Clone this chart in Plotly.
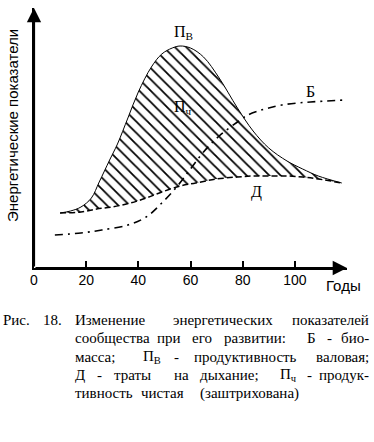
import plotly.graph_objects as go

# ---- data (arbitrary energy units vs years) ----
years_pv = [10, 14, 18, 22, 25, 29, 32, 36, 40, 45, 49, 53, 56, 60, 65, 71, 78, 84, 90, 97, 103, 109, 118]
pv_gross = [55, 57, 61, 70, 86, 108, 124, 150, 176, 201, 214, 220, 222, 220, 211, 190, 160, 137, 120, 107, 99, 92, 85]

years_d = [10, 18, 24, 30, 37, 43, 49, 56, 62, 70, 78, 84, 90, 97, 103, 109, 118]
respiration = [55, 56, 59, 61, 65, 70, 76, 82, 85, 89, 91, 92, 92, 92, 91, 89, 85]

years_b = [8, 18, 26, 36, 43, 49, 55, 60, 65, 71, 78, 82, 86, 90, 95, 101, 106, 112, 119]
biomass = [33, 35, 38, 43, 51, 65, 82, 99, 116, 132, 146, 153, 157, 160, 163, 165, 166, 167, 168]

x_ticks = [0, 20, 40, 60, 80, 100]

# ---- geometry helpers (pixel -> paper) ----
W, H = 374, 442
L, R, T, B = 34, 27, 8, 174
PW, PH = W - L - R, H - T - B

def px(x):
    return (x - L) / PW

def py(y):
    return (H - B - y) / PH

fig = go.Figure()

fig.add_trace(go.Scatter(x=years_d, y=respiration, mode="lines", line_shape="spline",
                         line=dict(color="black", width=1.5, dash="6px,3px"),
                         showlegend=False, hoverinfo="skip"))
fig.add_trace(go.Scatter(x=years_pv, y=pv_gross, mode="lines", line_shape="spline",
                         line=dict(color="black", width=1),
                         fill="tonexty", fillcolor="white",
                         fillpattern=dict(shape="\\", size=8, solidity=0.22,
                                          fgcolor="black", bgcolor="white", fillmode="replace"),
                         showlegend=False, hoverinfo="skip"))
fig.add_trace(go.Scatter(x=years_b, y=biomass, mode="lines", line_shape="spline",
                         line=dict(color="black", width=1.6, dash="8px,5px,2px,5px"),
                         showlegend=False, hoverinfo="skip"))

ann = []
# axis arrows
ann.append(dict(x=120, y=0, ax=0, ay=0, xref="x", yref="y", axref="x", ayref="y",
                text="", showarrow=True, arrowhead=2, arrowsize=1.3, arrowwidth=2.2, arrowcolor="black"))
ann.append(dict(x=0, y=260, ax=0, ay=0, xref="x", yref="y", axref="x", ayref="y",
                text="", showarrow=True, arrowhead=2, arrowsize=1.3, arrowwidth=2.2, arrowcolor="black"))

sans = "Liberation Sans, Arial, sans-serif"
serif = "Liberation Serif, Times New Roman, serif"

def label(x, y, text, size=14, font=serif, xanchor="center", angle=0):
    ann.append(dict(x=px(x), y=py(y), xref="paper", yref="paper", text=text, showarrow=False,
                    xanchor=xanchor, yanchor="middle", textangle=angle, borderpad=0,
                    font=dict(family=font, size=size, color="black")))

# y axis title & x axis title
label(12, 126, "Энергетические показатели", size=15, font=sans, angle=-90)
label(343, 285, "Годы", size=15, font=sans)

# curve labels
label(173, 32, "П<sub>В</sub>", size=16, xanchor="left")
label(173, 108, "П<sub>ч</sub>", size=16, xanchor="left")
label(310, 92, "Б", size=16)
label(256, 192, "Д", size=16)

# ---- caption (justified lines) ----
cw = {'а':444,'б':500,'в':472,'г':410,'д':480,'е':444,'ж':700,'з':395,'и':535,'й':535,'к':486,
      'л':497,'м':621,'н':535,'о':500,'п':535,'р':500,'с':444,'т':437,'у':500,'ф':648,'х':500,
      'ц':535,'ч':503,'ш':770,'щ':770,'ъ':524,'ы':692,'ь':462,'э':439,'ю':725,'я':493,
      'П':722,'Б':556,'Д':667,'И':722,'Р':556,'В':667,'.':250,':':278,';':278,'-':333,
      '(':333,')':333}
CF = 15
SCALE = 0.94  # rendered width relative to the estimate

def width(word):
    if word.startswith("П<sub>"):
        return (722 + 0.7 * 500) * CF / 1000 * SCALE
    return sum(cw.get(c, 500) for c in word) * CF / 1000 * SCALE

def justify(y, x0, x1, words, gaps):
    total = sum(width(w) for w in words)
    unit = (x1 - x0 - total) / sum(gaps)
    x = x0
    for i, w in enumerate(words):
        if i == len(words) - 1:
            label(x1, y, w, size=CF, xanchor="right")
        else:
            label(x, y, w, size=CF, xanchor="left")
            x += width(w) + unit * gaps[i]

label(2, 320, "Рис.", size=CF, xanchor="left")
label(42, 320, "18.", size=CF, xanchor="left")
justify(320, 74, 370, ["Изменение", "энергетических", "показателей"], [1, 1])
justify(338, 74, 370, ["сообщества", "при", "его", "развитии:", "Б", "-", "био-"], [1, 1, 1, 2, 1, 1])
justify(357, 74, 370, ["масса;", "П<sub>В</sub>", "-", "продуктивность", "валовая;"], [2, 1, 1, 2])
justify(375, 74, 370, ["Д", "-", "траты", "на", "дыхание;", "П<sub>ч</sub>", "-", "продук-"],
        [1, 1, 2, 1, 2, 1, 1])
label(74, 393, "тивность", size=CF, xanchor="left")
label(140, 393, "чистая", size=CF, xanchor="left")
label(199, 393, "(заштрихована)", size=CF, xanchor="left")

fig.update_layout(
    width=W, height=H, margin=dict(l=L, r=R, t=T, b=B, pad=0),
    paper_bgcolor="white", plot_bgcolor="white",
    showlegend=False, annotations=ann,
    xaxis=dict(range=[0, 120], tickvals=x_ticks, ticktext=[str(v) for v in x_ticks],
               ticks="inside", ticklen=7, tickwidth=1.5, tickcolor="black",
               showline=True, linecolor="black", linewidth=2.2, showgrid=False, zeroline=False,
               ticklabelstandoff=-2,
               tickfont=dict(family="Liberation Sans Narrow, Arial Narrow, Liberation Sans", size=14, color="black")),
    yaxis=dict(range=[0, 260], showticklabels=False, ticks="", showline=True,
               linecolor="black", linewidth=2.2, showgrid=False, zeroline=False),
)

fig.write_html("out.html", config={"displayModeBar": False},
               post_script="document.body.style.margin='0';")
